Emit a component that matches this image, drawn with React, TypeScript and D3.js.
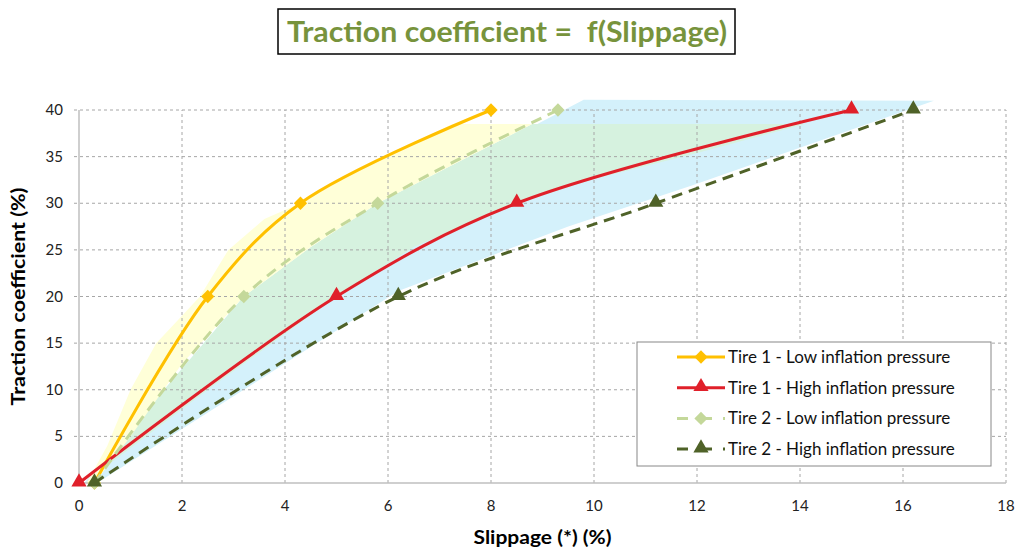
import React from "react";
import * as d3 from "d3";

// traction levels (%) shared by every series
const traction = [0, 20, 30, 40];

// slippage (%) read for each series at the traction levels above
const tire1Low = [0.3, 2.5, 4.3, 8.0];
const tire1High = [0, 5.0, 8.5, 15.0];
const tire2Low = [0.3, 3.2, 5.8, 9.3];
const tire2High = [0.3, 6.2, 11.2, 16.2];

const xTicks = [0, 2, 4, 6, 8, 10, 12, 14, 16, 18];
const yTicks = [0, 5, 10, 15, 20, 25, 30, 35, 40];

// hand-drawn shaded bands (slippage, traction)
const blueBand: [number, number][] = [
  [0.1, 0], [3.2, 20], [5.8, 30], [8.9, 38.5], [9.8, 41.1], [16.6, 41.0],
  [11.9, 31.9], [9.5, 27.5], [6.2, 20.6], [3.0, 9.3], [0.35, 0],
];
const greenBand: [number, number][] = [
  [0.2, 0.3], [1.5, 9], [3.2, 20], [4.5, 25.3], [5.8, 30], [8.8, 38.5],
  [14.1, 38.5], [12, 35.4], [10, 32.6], [8.5, 30], [6.5, 25.3], [5, 20],
  [2.5, 10], [0.1, 0],
];
const yellowBand: [number, number][] = [
  [0.15, 0], [0.55, 4], [1.0, 10], [1.5, 15], [2.35, 20], [2.9, 25],
  [3.6, 28.3], [4.3, 30], [5.3, 33.2], [6.3, 35.9], [7.25, 38.5],
  [8.8, 38.5], [5.8, 30], [4.5, 25.3], [3.2, 20], [2.0, 12.8], [1.0, 5],
  [0.3, 0],
];

interface Series {
  name: string;
  slip: number[];
  color: string;
  dash: string | null;
  marker: "diamond" | "triangle";
}

const series: Series[] = [
  { name: "Tire 1 - Low inflation pressure", slip: tire1Low, color: "#FFC000", dash: null, marker: "diamond" },
  { name: "Tire 1 - High inflation pressure", slip: tire1High, color: "#E0202A", dash: null, marker: "triangle" },
  { name: "Tire 2 - Low inflation pressure", slip: tire2Low, color: "#C4D89A", dash: "11,7", marker: "diamond" },
  { name: "Tire 2 - High inflation pressure", slip: tire2High, color: "#4F6228", dash: "11,7", marker: "triangle" },
];

const W = 1024;
const H = 560;
const margin = { left: 79, right: 18, top: 110, bottom: 77 };
const font = "Lato, 'Open Sans', sans-serif";

const x = d3.scaleLinear().domain([0, 18]).range([margin.left, W - margin.right]);
const y = d3.scaleLinear().domain([0, 40]).range([H - margin.bottom, margin.top]);

const line = d3
  .line<[number, number]>()
  .x((d) => x(d[0]))
  .y((d) => y(d[1]))
  .curve(d3.curveCatmullRom.alpha(0.5));

const poly = d3
  .line<[number, number]>()
  .x((d) => x(d[0]))
  .y((d) => y(d[1]));

const diamond = d3.symbol(d3.symbolSquare, 88)()!;
const triangle = d3.symbol(d3.symbolTriangle, 100)()!;

function Marker({ s, cx, cy }: { s: Series; cx: number; cy: number }) {
  if (s.marker === "diamond") {
    return <path d={diamond} transform={`translate(${cx},${cy}) rotate(45)`} fill={s.color} />;
  }
  return <path d={triangle} transform={`translate(${cx},${cy - 1})`} fill={s.color} />;
}

export default function App() {
  const [x0, x1] = x.range();
  const [y0, y1] = y.range();
  const legend = { x: 637, y: 342, w: 354, h: 124 };

  return (
    <svg
      width={W}
      height={H}
      style={{ position: "absolute", left: 0, top: 0, background: "#fff" }}
      fontFamily={font}
    >
      {/* title */}
      <rect x={278} y={9} width={457} height={45} fill="#fff" stroke="#000" strokeWidth={1.5} />
      <text
        x={287}
        y={42}
        fontSize={28.5}
        fontWeight="bold"
        fill="#77933C"
        textLength={440}
        lengthAdjust="spacingAndGlyphs"
        xmlSpace="preserve"
      >
        {"Traction coefficient =\u00a0 f(Slippage)"}
      </text>

      {/* bands */}
      <path d={poly(blueBand)! + "Z"} fill="#D4F1FB" />
      <path d={poly(greenBand)! + "Z"} fill="#D6F2DF" />
      <path d={poly(yellowBand)! + "Z"} fill="#FFFFD8" />

      {/* grid */}
      <g stroke="#A6A6A6" strokeDasharray="3,3" strokeWidth={1}>
        {yTicks.slice(1).map((t) => (
          <line key={"gy" + t} x1={x0 - 5} x2={x1} y1={y(t)} y2={y(t)} />
        ))}
        {xTicks.slice(1).map((t) => (
          <line key={"gx" + t} x1={x(t)} x2={x(t)} y1={y0} y2={y1} />
        ))}
      </g>
      <g stroke="#BFBFBF" strokeWidth={1.5}>
        <line x1={x0} x2={x0} y1={y0} y2={y1} />
        <line x1={x0} x2={x1} y1={y0} y2={y0} />
      </g>

      {/* tick labels */}
      <g fontSize={15} fill="#222">
        {yTicks.map((t) => (
          <text key={"ty" + t} x={x0 - 16} y={y(t) + 5} textAnchor="end">
            {t}
          </text>
        ))}
        {xTicks.map((t) => (
          <text key={"tx" + t} x={x(t)} y={y0 + 28} textAnchor="middle">
            {t}
          </text>
        ))}
      </g>

      {/* axis titles */}
      <text
        x={(x0 + x1) / 2}
        y={544}
        textAnchor="middle"
        fontSize={19}
        fontWeight="bold"
        fill="#000"
        textLength={138}
        lengthAdjust="spacingAndGlyphs"
      >
        Slippage (*) (%)
      </text>
      <text
        transform={`translate(25,${(y0 + y1) / 2}) rotate(-90)`}
        textAnchor="middle"
        fontSize={19}
        fontWeight="bold"
        fill="#000"
        textLength={218}
        lengthAdjust="spacingAndGlyphs"
      >
        Traction coefficient (%)
      </text>

      {/* series */}
      {series.map((s) => {
        const pts = s.slip.map((v, i) => [v, traction[i]] as [number, number]);
        return (
          <g key={s.name}>
            <path
              d={line(pts)!}
              fill="none"
              stroke={s.color}
              strokeWidth={3}
              strokeDasharray={s.dash ?? undefined}
            />
            {pts.map((p, i) => (
              <Marker key={i} s={s} cx={x(p[0])} cy={y(p[1])} />
            ))}
          </g>
        );
      })}

      {/* legend */}
      <rect x={legend.x} y={legend.y} width={legend.w} height={legend.h} fill="#fff" stroke="#888" strokeWidth={1} />
      {series.map((s, i) => {
        const cy = 357 + i * 30.7;
        return (
          <g key={"lg" + s.name}>
            <line
              x1={677}
              x2={725}
              y1={cy}
              y2={cy}
              stroke={s.color}
              strokeWidth={3}
              strokeDasharray={s.dash ? "11,13,11" : undefined}
            />
            <Marker s={s} cx={701} cy={cy} />
            <text x={728} y={cy + 6} fontSize={17} fill="#111">
              {s.name}
            </text>
          </g>
        );
      })}
    </svg>
  );
}
